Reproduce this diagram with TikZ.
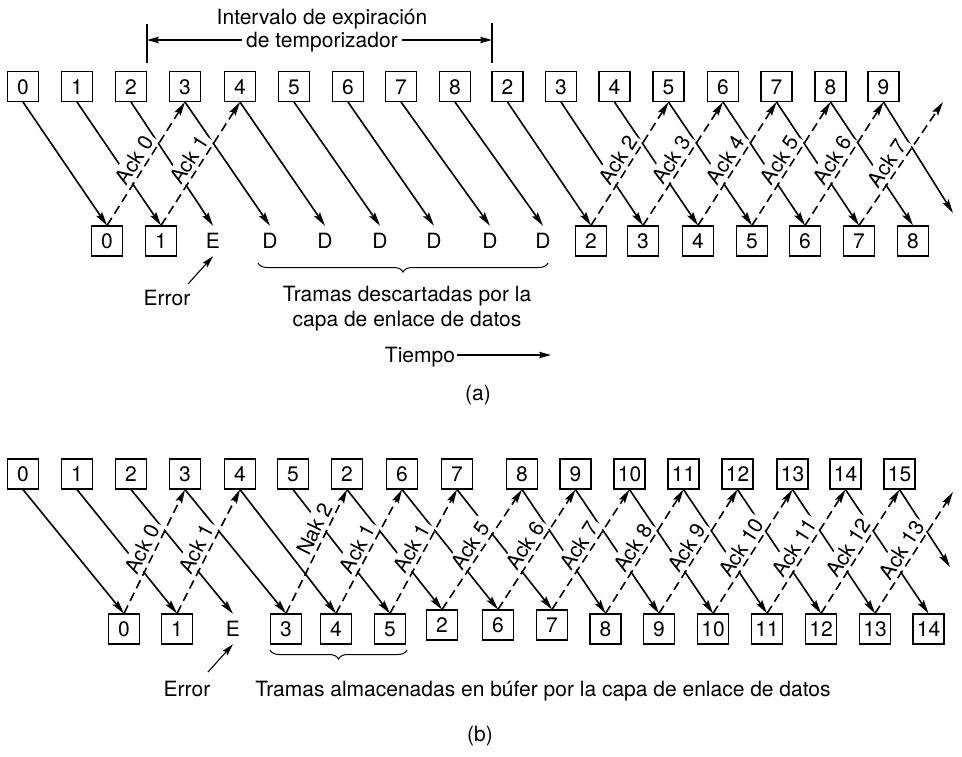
\documentclass[tikz,border=0pt]{standalone}
\usepackage{fontspec}
\setmainfont{TeX Gyre Heros}
\usetikzlibrary{arrows.meta,decorations.pathreplacing}
\begin{document}
\begin{tikzpicture}[x=1pt,y=-1pt,
  font=\fontsize{21pt}{25pt}\selectfont,
  every node/.style={text height=15pt,text depth=0pt,inner sep=2pt},
  fbox/.style={draw,line width=1.1pt,minimum width=31pt,minimum height=30pt,inner sep=0pt},
  ftxt/.style={minimum width=31pt,minimum height=30pt,inner sep=0pt},
  sarr/.style={line width=1.6pt,-{Stealth[length=14pt,width=7pt,inset=2.5pt]}},
  darr/.style={sarr,dash pattern=on 9pt off 5pt},
  tarr/.style={line width=1.1pt,-{Stealth[length=12pt,width=6.5pt,inset=2pt]}},
  lbl/.style={sloped,above=0.5pt,fill=white,inner sep=3pt,pos=0.48},
  brc/.style={line width=1pt,decorate,decoration={brace,mirror,amplitude=9pt}}]
\useasboundingbox (0,0) rectangle (962,756);

% ---------------- (a) ----------------
\foreach \i/\l/\x in {0/0/23,1/1/77,2/2/131,3/3/185,4/4/240,5/5/294,6/6/348,7/7/401,8/8/455,
  9/2/507.5,10/3/561,11/4/614.5,12/5/668.5,13/6/723,14/7/776.5,15/8/830.5,16/9/883.5}
  \node[fbox] (at\i) at (\x,86.5) {\l};
\foreach \i/\l/\x in {0/0/107,1/1/161,9/2/591,10/3/643,11/4/698,12/5/752,13/6/805,14/7/859,15/8/913}
  \node[fbox] (ab\i) at (\x,241) {\l};
\foreach \i/\l/\x in {2/E/213,3/D/270,4/D/325,5/D/380,6/D/434,7/D/490,8/D/543}
  \node[ftxt] (ab\i) at (\x,241) {\l};

\foreach \i in {0,...,15}
  \draw[sarr] (at\i.south) -- (ab\i.north);
\coordinate (aend1) at (953,213);
\draw[sarr] (at16.south) -- (aend1);

\foreach \a/\b/\t in {0/3/Ack 0,1/4/Ack 1,9/12/Ack 2,10/13/Ack 3,11/14/Ack 4,12/15/Ack 5,13/16/Ack 6}
  \draw[darr] (ab\a.north) -- node[lbl]{\t} (at\b.south);
\coordinate (aend2) at (943,102);
\draw[darr] (ab14.north) -- node[lbl,pos=0.45]{Ack 7} (aend2);

% timer
\node (tim1) at (322,17) {Intervalo de expiración};
\node[inner sep=4pt] (tim2) at (322,40) {de temporizador};
\coordinate (tla) at (147,24);
\coordinate (tlb) at (147,63);
\coordinate (tra) at (492,23);
\coordinate (trb) at (492,63);
\draw[line width=1.1pt] (tla) -- (tlb);
\draw[line width=1.1pt] (tra) -- (trb);
\draw[tarr] (tim2.west) -- (tla |- tim2.west);
\draw[tarr] (tim2.east) -- (tra |- tim2.east);

% error, brace, texts
\node (erra) at (167,298) {Error};
\coordinate (erraf) at (188,284);
\draw[tarr] (erraf) -- (ab2.south);
\coordinate (bra1) at (258,263);
\coordinate (bra2) at (548,263);
\draw[brc] (bra1) -- (bra2);
\node (trama1) at (407,294) {Tramas descartadas por la};
\node (trama2) at (407,319) {capa de enlace de datos};
\node (tiempo) at (420,355) {Tiempo};
\coordinate (tiend) at (551,355);
\draw[tarr] (tiempo.east) -- (tiend);
\node (capa) at (478,393) {(a)};

% ---------------- (b) ----------------
\foreach \i/\l/\x in {0/0/23,1/1/77,2/2/131,3/3/185,4/4/240,5/5/293,6/2/347,7/6/402,8/7/457,
  9/8/522,10/9/575.5,11/10/629.5,12/11/683.5,13/12/737.5,14/13/792.5,15/14/845.5,16/15/899.5}
  \node[fbox] (bt\i) at (\x,474) {\l};
\foreach \i/\l/\x/\y in {0/0/124/629,1/1/177/629,3/3/286/629,4/4/336/629,5/5/390/629,
  6/2/442/625,7/6/498/625,8/7/552/625,9/8/605.5/629,10/9/659/629,11/10/713/629,
  12/11/767/629,13/12/821/629,14/13/875/629,15/14/928.5/629}
  \node[fbox] (bb\i) at (\x,\y) {\l};
\node[ftxt] (bb2) at (233,629) {E};

\foreach \i in {0,...,15}
  \draw[sarr] (bt\i.south) -- (bb\i.north);
\coordinate (bend1) at (950,567);
\draw[sarr] (bt16.south) -- (bend1);

\foreach \a/\b/\t in {0/3/Ack 0,1/4/Ack 1,4/7/Ack 1,5/8/Ack 1,6/9/Ack 5,7/10/Ack 6,8/11/Ack 7,
  9/12/Ack 8,10/13/Ack 9,11/14/Ack 10,12/15/Ack 11,13/16/Ack 12}
  \draw[darr] (bb\a.north) -- node[lbl]{\t} (bt\b.south);
\draw[darr] (bb3.north) -- node[lbl,pos=0.64]{Nak 2} (bt6.south);
\coordinate (bend2) at (953,492);
\draw[darr] (bb14.north) -- node[lbl,pos=0.47]{Ack 13} (bend2);

\node (errb) at (187,689) {Error};
\coordinate (errbf) at (208,672);
\draw[tarr] (errbf) -- (bb2.south);
\coordinate (brb1) at (270,650);
\coordinate (brb2) at (407,650);
\draw[brc] (brb1) -- (brb2);
\node (tramb) at (543,689) {Tramas almacenadas en búfer por la capa de enlace de datos};
\node (capb) at (480,734) {(b)};
\end{tikzpicture}
\end{document}
